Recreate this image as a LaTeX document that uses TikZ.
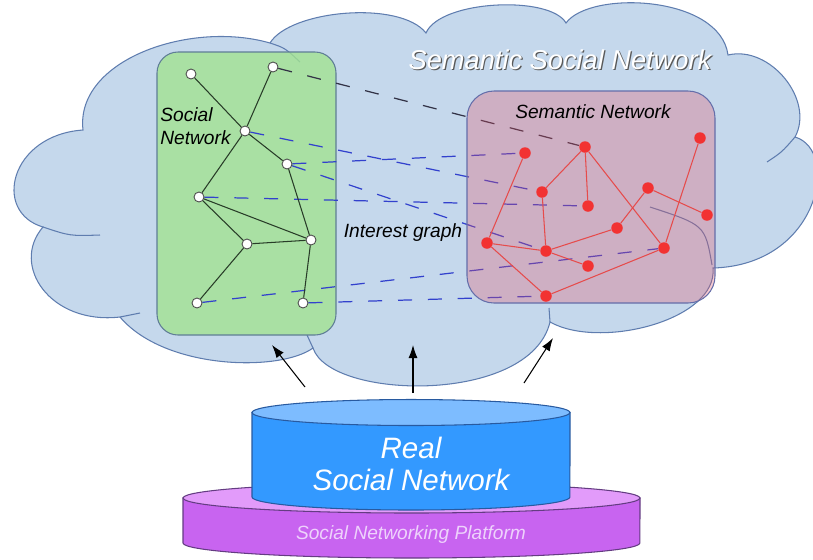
\documentclass[tikz,border=0pt]{standalone}
\usepackage{fontspec}
\setmainfont{Liberation Sans}
\usetikzlibrary{arrows.meta}
\definecolor{cloudfill}{RGB}{197,216,236}
\definecolor{cloudline}{RGB}{95,125,175}
\definecolor{socialgreen}{RGB}{162,227,145}
\definecolor{boxline}{RGB}{95,125,150}
\definecolor{semred}{RGB}{227,83,103}
\definecolor{semline}{RGB}{100,110,170}
\definecolor{nodered}{RGB}{242,50,50}
\definecolor{edgered}{RGB}{230,75,75}
\definecolor{edgegreen}{RGB}{40,60,40}
\definecolor{linkblue}{RGB}{50,65,205}
\definecolor{linkgrey}{RGB}{50,50,70}
\definecolor{realblue}{RGB}{51,153,255}
\definecolor{realtop}{RGB}{125,188,255}
\definecolor{realline}{RGB}{40,90,160}
\definecolor{platbody}{RGB}{200,100,240}
\definecolor{plattop}{RGB}{226,155,250}
\definecolor{platline}{RGB}{100,60,130}
\definecolor{plattext}{RGB}{238,210,252}
\pgfdeclarelayer{back}
\pgfdeclarelayer{links}
\pgfdeclarelayer{front}
\pgfdeclarelayer{edges}
\pgfsetlayers{back,links,front,edges,main}
\tikzset{user/.style = {circle, draw = black!70, fill = white, inner sep = 0, minimum size = 0.2cm, line width = 0.5pt},
  concept/.style = {circle, fill = nodered, inner sep = 0, minimum size = 0.23cm},
  uedge/.style = {edgegreen, line width = 0.6pt},
  kedge/.style = {edgered, line width = 0.6pt},
  interest/.style = {linkblue, line width = 0.7pt, dash pattern = on 8pt off 9pt},
  cloudedge/.style = {cloudline, line width = 0.6pt},
  itext/.style = {font = \fontsize{10.9}{13}\selectfont\itshape, inner sep = 0},
  lift/.style = {-{Latex[length = 2.6mm, width = 1.8mm]}, line width = 0.6pt}}

\begin{document}
\begin{tikzpicture}[x = 0.02cm, y = -0.02cm]
    \useasboundingbox (0, 0) rectangle (813, 559);

    \begin{pgfonlayer}{back}
    \filldraw [cloudedge, fill = cloudfill] (83, 130)
      .. controls (75, 60) and (190, 20) .. (270, 43)
      .. controls (290, 10) and (400, 0) .. (426, 33)
      .. controls (440, 0) and (550, -5) .. (566, 23)
      .. controls (590, -10) and (720, -5) .. (728, 55)
      .. controls (770, 45) and (815, 100) .. (795, 137)
      .. controls (840, 150) and (820, 265) .. (713, 268)
      .. controls (718, 320) and (600, 350) .. (550, 322)
      .. controls (530, 405) and (330, 400) .. (313, 348)
      .. controls (280, 372) and (165, 370) .. (120, 317)
      .. controls (50, 325) and (10, 265) .. (43, 227)
      .. controls (-8, 212) and (10, 135) .. (83, 130)
      -- cycle;
    \draw [cloudedge] (270, 43) .. controls (285, 48) .. (300, 62);
    \draw [cloudedge] (43, 227) .. controls (70, 236) .. (100, 235);
    \draw [cloudedge] (120, 317) -- (140, 313);
    \draw [cloudedge] (313, 348) -- (307, 335);
    \draw [cloudedge] (550, 322) -- (549, 308);
    \draw [cloudedge] (795, 137) .. controls (782, 152) .. (767, 162);
    \draw [cloudedge] (712, 265) .. controls (705, 225) .. (650, 207);

    \filldraw [boxline, line width = 0.6pt, fill = socialgreen, fill opacity = 0.8, rounded corners = 0.42cm] (157, 52) rectangle (336, 335);
    \end{pgfonlayer}

    \begin{pgfonlayer}{front}
    \filldraw [semline, line width = 0.6pt, fill = semred, fill opacity = 0.3, rounded corners = 0.54cm] (467, 91) rectangle (715, 303);
    \end{pgfonlayer}

    \node [white, font = \fontsize{15.5}{18}\selectfont\itshape, text = black!65] (ssnshade) at (561.2, 61.2) {Semantic Social Network};
    \node [white, font = \fontsize{15.5}{18}\selectfont\itshape, text = white] (ssn) at (560, 60) {Semantic Social Network};
    \node [itext, anchor = west, align = left] (sntitle) at (160, 126) {Social\\Network};
    \node [itext] (semtitle) at (593, 112) {Semantic Network};
    \node [itext] (igraph) at (403, 233) {Interest graph};

    \node [user] (u1) at (191, 74) {};
    \node [user] (u2) at (273, 67) {};
    \node [user] (u3) at (245, 131) {};
    \node [user] (u4) at (287, 164) {};
    \node [user] (u5) at (199, 197) {};
    \node [user] (u6) at (247, 244) {};
    \node [user] (u7) at (311, 240) {};
    \node [user] (u8) at (197, 303) {};
    \node [user] (u9) at (303, 303) {};

    \node [concept] (k1) at (525, 153) {};
    \node [concept] (k2) at (585, 147) {};
    \node [concept] (k3) at (700, 138) {};
    \node [concept] (k4) at (542, 192) {};
    \node [concept] (k5) at (588, 206) {};
    \node [concept] (k6) at (648, 188) {};
    \node [concept] (k7) at (707, 215) {};
    \node [concept] (k8) at (617, 228) {};
    \node [concept] (k9) at (487, 243) {};
    \node [concept] (k10) at (546, 251) {};
    \node [concept] (k11) at (664, 248) {};
    \node [concept] (k12) at (588, 266) {};
    \node [concept] (k13) at (546, 296) {};

    \begin{pgfonlayer}{edges}
    \draw [uedge] (u1) -- (u3) -- (u2);
    \draw [uedge] (u3) -- (u4) -- (u7) -- (u9);
    \draw [uedge] (u3) -- (u5) -- (u7) -- (u6) -- (u8);
    \draw [uedge] (u5) -- (u6);

    \draw [kedge] (k1) -- (k9) -- (k10) -- (k4) -- (k2) -- (k5);
    \draw [kedge] (k2) -- (k11) -- (k13) -- (k9);
    \draw [kedge] (k10) -- (k8) -- (k6) -- (k7);
    \draw [kedge] (k10) -- (k12);
    \draw [kedge] (k3) -- (k11);
    \end{pgfonlayer}

    \begin{pgfonlayer}{links}
    \draw [interest, linkgrey] (u2) -- (k2);
    \draw [interest] (u3) -- (k4);
    \draw [interest] (u4) -- (k1);
    \draw [interest] (u4) -- (k10);
    \draw [interest] (u5) -- (k5);
    \draw [interest] (u8) -- (k11);
    \draw [interest] (u9) -- (k13);
    \end{pgfonlayer}

    \filldraw [platline, line width = 0.6pt, fill = platbody] (183, 498) -- (183, 543) arc [start angle = 180, end angle = 360, x radius = 4.57cm, y radius = 0.3cm] -- (640, 498) -- cycle;
    \filldraw [platline, line width = 0.6pt, fill = plattop] (411.5, 498) ellipse [x radius = 4.57cm, y radius = 0.3cm];
    \filldraw [realline, line width = 0.6pt, fill = realblue] (252, 412.5) -- (252, 497) arc [start angle = 180, end angle = 360, x radius = 3.18cm, y radius = 0.26cm] -- (570, 412.5) -- cycle;
    \filldraw [realline, line width = 0.6pt, fill = realtop] (411, 412.5) ellipse [x radius = 3.18cm, y radius = 0.26cm];
    \node [white, align = center, inner sep = 0, font = \fontsize{16.8}{18.2}\selectfont\itshape] (real) at (411, 464) {Real\\Social Network};
    \node [itext, text = plattext] (platform) at (411, 535) {Social Networking Platform};

    \coordinate (a1s) at (305, 387);
    \coordinate (a1e) at (272, 345);
    \coordinate (a2s) at (413, 393);
    \coordinate (a2e) at (413, 345);
    \coordinate (a3s) at (524, 383);
    \coordinate (a3e) at (553, 338);
    \draw [lift] (a1s) -- (a1e);
    \draw [lift] (a2s) -- (a2e);
    \draw [lift] (a3s) -- (a3e);
\end{tikzpicture}
\end{document}
